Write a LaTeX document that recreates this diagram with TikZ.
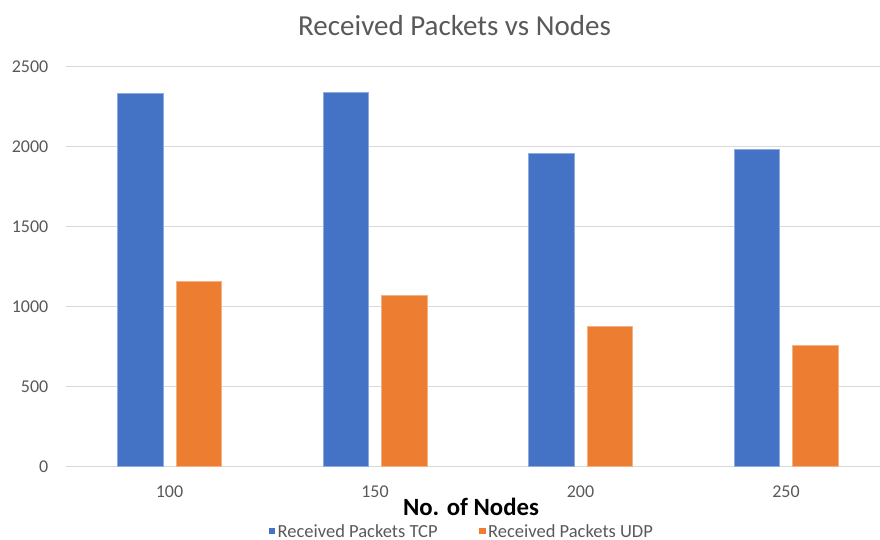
\documentclass[tikz,border=0pt]{standalone}
\usepackage{fontspec}
\setmainfont{Carlito}
\usepackage{tikz}
\definecolor{tcpblue}{HTML}{4472C4}
\definecolor{udporange}{HTML}{ED7D31}
\definecolor{gridgray}{HTML}{D9D9D9}
\definecolor{textgray}{HTML}{595959}
\tikzset{
  gridline/.style={draw=gridgray, line width=1pt},
  tcpbar/.style={fill=tcpblue, draw=tcpblue!60!white, line width=0.6pt},
  udpbar/.style={fill=udporange, draw=udporange!60!white, line width=0.6pt},
  ticklabel/.style={text=textgray, font=\fontsize{18}{20}\selectfont, inner sep=0pt},
  legendlabel/.style={text=textgray, font=\fontsize{18.5}{20}\selectfont, inner sep=0pt, anchor=west}
}

\begin{document}
\begin{tikzpicture}[x=1pt, y=-1pt]
        \useasboundingbox (0,0) rectangle (880,539);

        % gridlines and y labels
        \foreach \v in {0,500,...,2500} {
          \draw[gridline] (66,{466.5-\v*0.16}) -- (880,{466.5-\v*0.16});
          \node[ticklabel, anchor=east] (ylab\v) at (48.5,{466.5-\v*0.16}) {\v};
        }

        % bars: category centre / TCP / UDP
        \foreach \c/\t/\u in {169.5/2332/1155, 375/2338/1068, 580.5/1957/874, 786/1982/757} {
          \filldraw[tcpbar] ({\c-52},466.5) rectangle ({\c-6.5},{466.5-\t*0.16});
          \filldraw[udpbar] ({\c+6.5},466.5) rectangle ({\c+52},{466.5-\u*0.16});
        }

        \foreach \c/\n in {169.5/100, 375/150, 580.5/200, 786/250} {
          \node[ticklabel] (xlab\n) at (\c,492) {\n};
        }

        \node[text=textgray, font=\fontsize{29}{31}\selectfont] (title) at (454.5,26) {Received Packets vs Nodes};
        \node[font=\fontsize{24.8}{26}\selectfont\bfseries] (xtitle) at (471,507) {No. of Nodes};

        % legend
        \fill[tcpblue] (268.5,527.5) rectangle (275,534);
        \node[legendlabel] (legtcp) at (277.5,531) {Received Packets TCP};
        \fill[udporange] (479,527.5) rectangle (485.5,534);
        \node[legendlabel] (legudp) at (488,531) {Received Packets UDP};
      \end{tikzpicture}
\end{document}
